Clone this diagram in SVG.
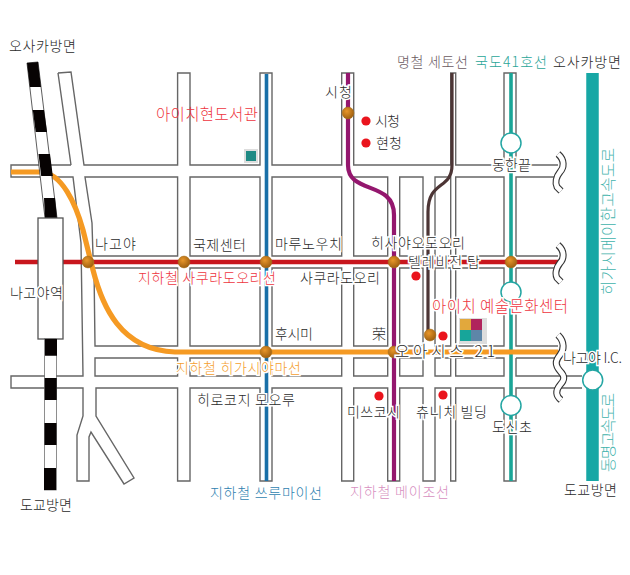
<svg xmlns="http://www.w3.org/2000/svg" width="630" height="575" viewBox="0 0 630 575">
<style>
text{font-family:"Noto Sans CJK KR","Noto Sans",sans-serif;font-size:14px;fill:#2a2a2a;font-weight:300}
.h{stroke:#fff;stroke-width:3px;paint-order:stroke}
.b{font-size:15.5px}
.r{fill:#ee3540}.road{fill:none;stroke:#666;stroke-width:1.4}
.line{fill:none}
.teal{fill:#3fb3ac;font-size:15.5px}
.wo{fill:none;stroke:#333;stroke-width:7}
.wi{fill:none;stroke:#fff;stroke-width:4.8}
</style>
<defs>
<radialGradient id="b" cx="40%" cy="35%" r="70%"><stop offset="0" stop-color="#e8962a"/><stop offset="1" stop-color="#9a5c0e"/></radialGradient>
<circle id="st" r="5.9" fill="url(#b)" stroke="#a8701c" stroke-width=".6"/>
<circle id="dot" r="4.6" fill="#ea141d"/>
<circle id="ic" r="10" fill="#fff" stroke="#24a6a3" stroke-width="1.5"/>
<path id="w1" d="M558,154C565,160 564,168 560,172C556,177 555,183 557,187L561,191"/>
<path id="w3" d="M558,335C565,342 564,350 560,355C555,361 555,365 560,371C565,376 565,380 560,385C555,391 556,396 561,400"/>
</defs>
<rect width="630" height="575" fill="#fff"/>
<g id="roads" class="road">
<path d="M58,73L71,72L84,165H177.6V73H190V165H260V73H272V165H341.7V73H353.7V165H450.7V73H455.7V165H504V73H516V165H558"/>
<path d="M71,165L58,73M71,165H11V177H73L81,243L83,376H11V388H83V416L77,435V481H89V437L91,432L124,484L134,478L96,416V388H177.6V481H190V388H260V481H272V388H341.7V481H353.7V388H387.7V481H399.7V388H423V481H435V388H450.7V481H455.7V388H504V481H516V388H582"/>
<path d="M85,177L92,223L93,256H177.6V177ZM190,177H260V256H190ZM272,177H341.7V256H272ZM353.7,177H387.7V256H353.7ZM399.7,177H423V256H399.7ZM435,177H450.7V256H435ZM455.7,177H504V256H455.7ZM516,256V177H558M516,256H558"/>
<path d="M94,268H177.6V346H95ZM190,268H260V346H190ZM272,268H341.7V346H272ZM353.7,268H387.7V346H353.7ZM399.7,268H423V346H399.7ZM435,268H450.7V346H435ZM455.7,268H504V346H455.7ZM516,268V346H558M516,268H558"/>
<path d="M95,358H177.6V376H95ZM190,358H260V376H190ZM272,358H341.7V376H272ZM353.7,358H387.7V376H353.7ZM399.7,358H423V376H399.7ZM435,358H450.7V376H435ZM455.7,358H504V376H455.7ZM516,358V376H582M516,358H558"/>
</g>
<g id="connectors" class="line">
<path d="M15,262H558" stroke="#c8161d" stroke-width="4.6"/>
<path d="M266.5,74V481" stroke="#1a70a8" stroke-width="3.6"/>
<path d="M348,73V165C348,195 394,180 394,215V481" stroke="#94176e" stroke-width="4.2"/>
<path d="M452,73V165C452,190 428,180 428,212V335" stroke="#4c3535" stroke-width="3.2"/>
<path d="M511,73V481" stroke="#1aa597" stroke-width="3.6"/>
<path d="M11,172H40C62,172 76,205 83,230L93,270C102,305 120,350 175,352H558" stroke="#f59a23" stroke-width="5.2"/>
<path d="M592.5,73V481" stroke="#17a7a5" stroke-width="12.5"/>
</g>
<g id="railway">
<polygon points="27,63 38,62 57,218 45,218" fill="#fff" stroke="#333" stroke-width=".8"/>
<path d="M27,63L29.9,87L41,87L38,62ZM32.8,110L35.7,132L47,132L44,110ZM38.5,154L41.2,176L52.8,176L50,154ZM44,198L45,218H57L55,198Z" fill="#070303"/>
<rect x="38" y="218" width="25" height="121" fill="#fff" stroke="#555" stroke-width="1.3"/>
<rect x="44.5" y="339" width="12" height="151" fill="#fff" stroke="#444" stroke-width=".6"/>
<path d="M45,339H57V355.7H45ZM44.7,378H56.7V400H44.7ZM44.5,423H56.5V445H44.5ZM44,468H56V490H44Z" fill="#070303"/>
</g>
<g id="waves">
<use href="#w1" class="wo"/><use href="#w1" class="wi"/>
<use href="#w1" y="91" class="wo"/><use href="#w1" y="91" class="wi"/>
<use href="#w3" class="wo"/><use href="#w3" class="wi"/>
</g>
<g id="stations">
<use href="#st" x="88" y="262"/><use href="#st" x="184" y="262"/><use href="#st" x="266" y="262"/><use href="#st" x="394" y="262"/><use href="#st" x="511" y="262"/><use href="#st" x="348" y="113"/><use href="#st" x="266" y="352"/><use href="#st" x="394" y="352"/><use href="#st" x="430" y="335"/>
</g>
<g id="dots">
<use href="#dot" x="366" y="121"/><use href="#dot" x="366" y="143"/><use href="#dot" x="416" y="276"/><use href="#dot" x="443" y="336"/><use href="#dot" x="379" y="396"/><use href="#dot" x="443" y="395"/>
</g>
<g id="interchanges">
<use href="#ic" x="511" y="143"/><use href="#ic" x="511" y="292"/><use href="#ic" x="511" y="405.5"/><use href="#ic" x="592.7" y="380"/>
</g>
<g id="library-icon"><rect x="244" y="149" width="14" height="14" fill="#ddd"/><rect x="246" y="151" width="10" height="10" fill="#1f8a84"/></g>
<g id="arts-icon"><rect x="459" y="318" width="28" height="26" fill="#ddd"/><rect x="460" y="319" width="11" height="11" fill="#e2a83c"/><rect x="471" y="319" width="11" height="11" fill="#b0245c"/><rect x="460" y="330" width="11" height="11" fill="#17a59a"/><rect x="471" y="330" width="11" height="11" fill="#5d86a8"/></g>
<g id="labels">
<text x="9" y="51" textLength="67">오사카방면</text>
<text x="156" y="120" class="r b" textLength="102">아이치현도서관</text>
<text x="325" y="97" class="h" textLength="27">시청</text>
<text x="375" y="126" textLength="25">시청</text>
<text x="376" y="148" textLength="26">현청</text>
<text x="397" y="67" style="fill:#6b5a5f" textLength="71">명철 세토선</text>
<text x="475" y="67" style="fill:#2aa598" textLength="72">국도41호선</text>
<text x="553" y="67" textLength="68">오사카방면</text>
<text x="492" y="170" class="h" textLength="39">동한끝</text>
<text x="95" y="249" textLength="41">나고야</text>
<text x="193" y="250" textLength="53">국제센터</text>
<text x="275" y="249" class="h" textLength="67">마루노우치</text>
<text x="371" y="248" class="h" textLength="94">히사야오도오리</text>
<text x="408" y="267" class="h" textLength="72">텔레비전 탑</text>
<text x="138" y="283" class="r h" textLength="138">지하철 사쿠라도오리선</text>
<text x="300" y="283" class="h" textLength="80">사쿠라도오리</text>
<text x="10" y="298" class="h" textLength="53">나고야역</text>
<text x="432" y="312" class="r h b" textLength="136">아이치 예술문화센터</text>
<text x="275" y="339" class="h" textLength="38">후시미</text>
<text x="372" y="339">荣</text>
<text x="395" y="357" class="h b" textLength="100">오아시스 21</text>
<text x="563" y="363" class="h" textLength="59">나고야 I.C.</text>
<text x="176" y="373" class="h" style="fill:#f5a030" textLength="125">지하철 히가시야마선</text>
<text x="197" y="405" class="h" textLength="98">히로코지 모오루</text>
<text x="347" y="417" class="h" textLength="53">미쓰코시</text>
<text x="416" y="417" class="h" textLength="71">츄니치 빌딩</text>
<text x="492" y="432" class="h" textLength="40">도신초</text>
<text x="210" y="498" style="fill:#2e7fb0" textLength="112">지하철 쓰루마이선</text>
<text x="350" y="497" style="fill:#d78fbf" textLength="99">지하철 메이조선</text>
<text x="20" y="510" textLength="52">도교방면</text>
<text x="564" y="495" textLength="53">도교방면</text>
<text transform="translate(614,295) rotate(-90)" class="teal" textLength="147">히가시메이한고속도로</text>
<text transform="translate(614,472) rotate(-90)" class="teal" textLength="79">동명고속도로</text>
</g>
</svg>
